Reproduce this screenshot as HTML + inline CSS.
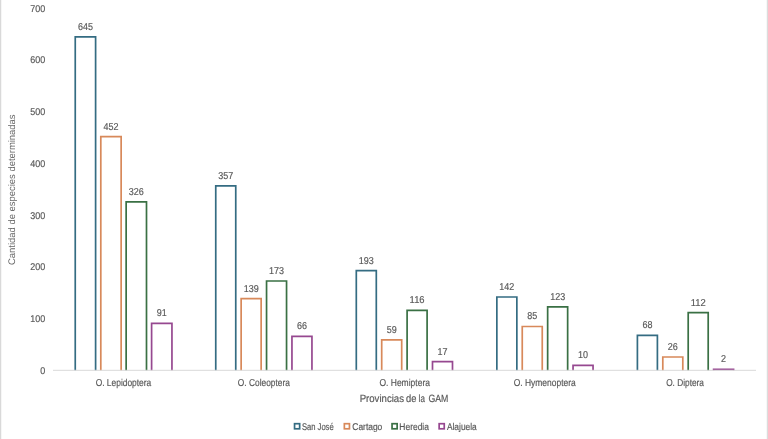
<!DOCTYPE html>
<html><head><meta charset="utf-8"><style>
html,body{margin:0;padding:0;background:#fff;width:768px;height:439px;overflow:hidden}
svg{display:block;will-change:transform}
text{font-family:"Liberation Sans", sans-serif;text-rendering:geometricPrecision;stroke:#595959;stroke-width:0.18px}
</style></head><body>
<svg width="768" height="439" viewBox="0 0 768 439">
<rect width="768" height="439" fill="#fff"/>
<rect x="0" y="0" width="1" height="439" fill="#d9d9d9"/>
<rect x="1" y="0" width="1" height="439" fill="#f6f6f6"/>
<rect x="767" y="0" width="1" height="439" fill="#dcdcdc"/>
<rect x="766" y="0" width="1" height="439" fill="#f7f7f7"/>
<g fill="#595959">
<text x="45.20" y="373.75" font-size="9.8" text-anchor="end" textLength="5.00" lengthAdjust="spacingAndGlyphs">0</text>
<text x="45.20" y="322.04" font-size="9.8" text-anchor="end" textLength="15.00" lengthAdjust="spacingAndGlyphs">100</text>
<text x="45.20" y="270.32" font-size="9.8" text-anchor="end" textLength="15.00" lengthAdjust="spacingAndGlyphs">200</text>
<text x="45.20" y="218.61" font-size="9.8" text-anchor="end" textLength="15.00" lengthAdjust="spacingAndGlyphs">300</text>
<text x="45.20" y="166.89" font-size="9.8" text-anchor="end" textLength="15.00" lengthAdjust="spacingAndGlyphs">400</text>
<text x="45.20" y="115.18" font-size="9.8" text-anchor="end" textLength="15.00" lengthAdjust="spacingAndGlyphs">500</text>
<text x="45.20" y="63.46" font-size="9.8" text-anchor="end" textLength="15.00" lengthAdjust="spacingAndGlyphs">600</text>
<text x="45.20" y="11.75" font-size="9.8" text-anchor="end" textLength="15.00" lengthAdjust="spacingAndGlyphs">700</text>
</g>
<path d="M75.25 370.45V36.89H95.60V370.45" fill="none" stroke="#346c82" stroke-width="1.7"/>
<path d="M100.80 370.45V136.70H121.15V370.45" fill="none" stroke="#d8895a" stroke-width="1.7"/>
<path d="M126.15 370.45V201.86H146.50V370.45" fill="none" stroke="#3a7044" stroke-width="1.7"/>
<path d="M151.60 370.45V323.39H171.95V370.45" fill="none" stroke="#964890" stroke-width="1.7"/>
<path d="M215.75 370.45V185.83H235.75V370.45" fill="none" stroke="#346c82" stroke-width="1.7"/>
<path d="M241.15 370.45V298.57H261.15V370.45" fill="none" stroke="#d8895a" stroke-width="1.7"/>
<path d="M266.55 370.45V280.98H286.55V370.45" fill="none" stroke="#3a7044" stroke-width="1.7"/>
<path d="M291.95 370.45V336.32H311.95V370.45" fill="none" stroke="#964890" stroke-width="1.7"/>
<path d="M356.30 370.45V270.64H376.30V370.45" fill="none" stroke="#346c82" stroke-width="1.7"/>
<path d="M381.70 370.45V339.94H401.70V370.45" fill="none" stroke="#d8895a" stroke-width="1.7"/>
<path d="M407.10 370.45V310.46H427.10V370.45" fill="none" stroke="#3a7044" stroke-width="1.7"/>
<path d="M432.50 370.45V361.66H452.50V370.45" fill="none" stroke="#964890" stroke-width="1.7"/>
<path d="M496.85 370.45V297.02H516.85V370.45" fill="none" stroke="#346c82" stroke-width="1.7"/>
<path d="M522.25 370.45V326.49H542.25V370.45" fill="none" stroke="#d8895a" stroke-width="1.7"/>
<path d="M547.65 370.45V306.84H567.65V370.45" fill="none" stroke="#3a7044" stroke-width="1.7"/>
<path d="M573.05 370.45V365.28H593.05V370.45" fill="none" stroke="#964890" stroke-width="1.7"/>
<path d="M637.40 370.45V335.28H657.40V370.45" fill="none" stroke="#346c82" stroke-width="1.7"/>
<path d="M662.80 370.45V357.00H682.80V370.45" fill="none" stroke="#d8895a" stroke-width="1.7"/>
<path d="M688.20 370.45V312.53H708.20V370.45" fill="none" stroke="#3a7044" stroke-width="1.7"/>
<path d="M713.60 370.45V369.42H733.60V370.45" fill="none" stroke="#964890" stroke-width="1.7"/>
<g fill="#595959">
<text x="85.42" y="29.89" font-size="10.0" text-anchor="middle" textLength="15.00" lengthAdjust="spacingAndGlyphs">645</text>
<text x="110.97" y="129.70" font-size="10.0" text-anchor="middle" textLength="15.00" lengthAdjust="spacingAndGlyphs">452</text>
<text x="136.33" y="194.86" font-size="10.0" text-anchor="middle" textLength="15.00" lengthAdjust="spacingAndGlyphs">326</text>
<text x="161.78" y="316.39" font-size="10.0" text-anchor="middle" textLength="10.00" lengthAdjust="spacingAndGlyphs">91</text>
<text x="95.66" y="385.90" font-size="10.0" textLength="55.59" lengthAdjust="spacingAndGlyphs">O. Lepidoptera</text>
<text x="225.75" y="178.83" font-size="10.0" text-anchor="middle" textLength="15.00" lengthAdjust="spacingAndGlyphs">357</text>
<text x="251.15" y="291.57" font-size="10.0" text-anchor="middle" textLength="15.00" lengthAdjust="spacingAndGlyphs">139</text>
<text x="276.55" y="273.98" font-size="10.0" text-anchor="middle" textLength="15.00" lengthAdjust="spacingAndGlyphs">173</text>
<text x="301.95" y="329.32" font-size="10.0" text-anchor="middle" textLength="10.00" lengthAdjust="spacingAndGlyphs">66</text>
<text x="237.86" y="385.90" font-size="10.0" textLength="52.00" lengthAdjust="spacingAndGlyphs">O. Coleoptera</text>
<text x="366.30" y="263.64" font-size="10.0" text-anchor="middle" textLength="15.00" lengthAdjust="spacingAndGlyphs">193</text>
<text x="391.70" y="332.94" font-size="10.0" text-anchor="middle" textLength="10.00" lengthAdjust="spacingAndGlyphs">59</text>
<text x="417.10" y="303.46" font-size="10.0" text-anchor="middle" textLength="15.00" lengthAdjust="spacingAndGlyphs">116</text>
<text x="442.50" y="354.66" font-size="10.0" text-anchor="middle" textLength="10.00" lengthAdjust="spacingAndGlyphs">17</text>
<text x="379.45" y="385.90" font-size="10.0" textLength="50.50" lengthAdjust="spacingAndGlyphs">O. Hemiptera</text>
<text x="506.85" y="290.02" font-size="10.0" text-anchor="middle" textLength="15.00" lengthAdjust="spacingAndGlyphs">142</text>
<text x="532.25" y="319.49" font-size="10.0" text-anchor="middle" textLength="10.00" lengthAdjust="spacingAndGlyphs">85</text>
<text x="557.65" y="299.84" font-size="10.0" text-anchor="middle" textLength="15.00" lengthAdjust="spacingAndGlyphs">123</text>
<text x="583.05" y="358.28" font-size="10.0" text-anchor="middle" textLength="10.00" lengthAdjust="spacingAndGlyphs">10</text>
<text x="513.70" y="385.90" font-size="10.0" textLength="62.05" lengthAdjust="spacingAndGlyphs">O. Hymenoptera</text>
<text x="647.40" y="328.28" font-size="10.0" text-anchor="middle" textLength="10.00" lengthAdjust="spacingAndGlyphs">68</text>
<text x="672.80" y="350.00" font-size="10.0" text-anchor="middle" textLength="10.00" lengthAdjust="spacingAndGlyphs">26</text>
<text x="698.20" y="305.53" font-size="10.0" text-anchor="middle" textLength="15.00" lengthAdjust="spacingAndGlyphs">112</text>
<text x="723.60" y="362.42" font-size="10.0" text-anchor="middle" textLength="5.00" lengthAdjust="spacingAndGlyphs">2</text>
<text x="666.16" y="385.90" font-size="10.0" textLength="37.79" lengthAdjust="spacingAndGlyphs">O. Diptera</text>
</g>
<rect x="53" y="369.80" width="703" height="1" fill="#d9d9d9"/>
<g fill="#595959">
<text x="359.66" y="401.60" font-size="10.5" textLength="44.33" lengthAdjust="spacingAndGlyphs">Provincias</text>
<text x="406.06" y="401.60" font-size="10.5" textLength="10.41" lengthAdjust="spacingAndGlyphs">de</text>
<text x="418.61" y="401.60" font-size="10.5" textLength="6.24" lengthAdjust="spacingAndGlyphs">la</text>
<text x="428.41" y="401.60" font-size="10.5" textLength="19.96" lengthAdjust="spacingAndGlyphs">GAM</text>
<text style="stroke:none;fill:#666" transform="translate(14.8,189.7) rotate(-90)" x="0" y="0" text-anchor="middle" font-size="9.6" textLength="150.5" lengthAdjust="spacingAndGlyphs">Cantidad de especies determinadas</text>
</g>
<rect x="294.55" y="423.7" width="5.1" height="5.1" fill="none" stroke="#346c82" stroke-width="1.7"/>
<rect x="344.35" y="423.7" width="5.1" height="5.1" fill="none" stroke="#d8895a" stroke-width="1.7"/>
<rect x="392.05" y="423.7" width="5.1" height="5.1" fill="none" stroke="#3a7044" stroke-width="1.7"/>
<rect x="439.15" y="423.7" width="5.1" height="5.1" fill="none" stroke="#964890" stroke-width="1.7"/>
<g fill="#595959">
<text x="301.90" y="429.60" font-size="9.8" textLength="31.79" lengthAdjust="spacingAndGlyphs">San José</text>
<text x="352.32" y="429.60" font-size="9.8" textLength="29.99" lengthAdjust="spacingAndGlyphs">Cartago</text>
<text x="399.36" y="429.60" font-size="9.8" textLength="29.59" lengthAdjust="spacingAndGlyphs">Heredia</text>
<text x="446.93" y="429.60" font-size="9.8" textLength="29.82" lengthAdjust="spacingAndGlyphs">Alajuela</text>
</g>
</svg>
</body></html>
